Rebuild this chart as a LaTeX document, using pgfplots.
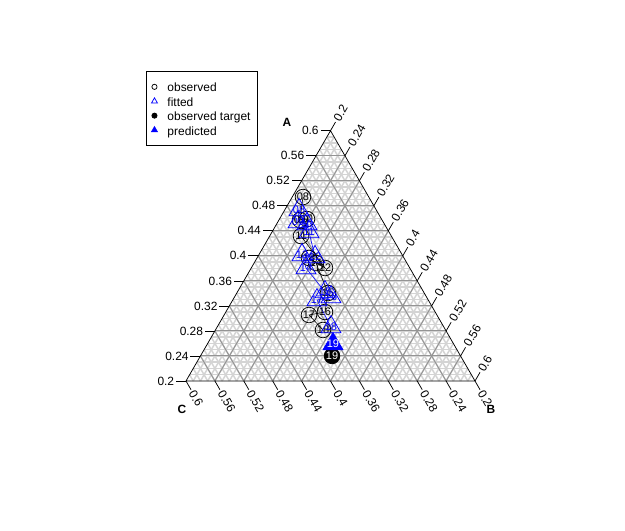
\documentclass[border=0pt]{standalone}
\usepackage{pgfplots}
\pgfplotsset{compat=1.18}
\usepackage{pgfplotstable}
\usepackage{fontspec}
\setmainfont{Liberation Sans}

% compositions: A, B (C = 1 - A - B)
\pgfplotstableread{
A B L
0.4940 0.2149 08
0.4573 0.2291 09
0.4589 0.2380 10
0.4317 0.2433 11
0.3806 0.3021 12
0.3966 0.2719 13
0.3886 0.2856 14
0.3406 0.3262 15
0.3103 0.3372 16
0.3055 0.3175 17
0.2815 0.3489 18
}\obs
\pgfplotstableread{
A B L
0.2400 0.3821 19
}\target
\pgfplotstableread{
A B L
0.4733 0.2198 08
0.4541 0.2280 09
0.4509 0.2420 10
0.4381 0.2512 11
0.3982 0.2795 12
0.4014 0.2599 13
0.3806 0.2758 14
0.3422 0.3213 15
0.3342 0.3336 16
0.3294 0.3166 17
0.2863 0.3575 18
}\fit
\pgfplotstableread{
A B L
0.2591 0.3739 19
}\pred

\newcommand\atick[2]{\draw[black,line width=0.75bp] (axis cs:{0.2+#1/200},{0.8660254*#1/100}) -- ++(-10bp,0bp) node[anchor=east,inner sep=1.5bp] {#2};}
\newcommand\btick[2]{\draw[black,line width=0.75bp] (axis cs:{0.4+#1/200},{0.8660254*(0.8-#1/100)}) -- ++(60:10bp) node[rotate=60,anchor=west,inner sep=1.5bp] {#2};}
\newcommand\ctick[2]{\draw[black,line width=0.75bp] (axis cs:{0.9-#1/100},0.1732051) -- ++(-60:10bp) node[rotate=-60,anchor=west,inner sep=1.5bp] {#2};}

\begin{document}
\begin{tikzpicture}
\begin{axis}[
  x=722.5bp, y=722.5bp,
  xmin=0.04256, xmax=0.90761, ymin=-0.03303, ymax=0.70054,
  hide axis, clip=false,
  font=\fontsize{12}{14}\selectfont,
  legend cell align=left,
  legend style={at={(axis cs:0.2446,0.6023)}, anchor=north west, draw=black,
    line width=0.75bp, font=\fontsize{12}{13}\selectfont,
    inner xsep=4.8bp, inner ysep=8.5bp, row sep=0.4bp,
    nodes={inner sep=2bp, text height=10bp, text depth=0bp}},
]
\path (axis cs:0.04256,-0.03303) rectangle (axis cs:0.90761,0.70054);
% fine grid
\pgfplotsinvokeforeach{21,...,59}{
  \draw[black!17,line width=1.5bp] (axis cs:{0.2+#1/200},{0.8660254*#1/100}) -- (axis cs:{0.8-#1/200},{0.8660254*#1/100});
  \draw[black!17,line width=1.5bp] (axis cs:{#1/100+0.1},0.1732051) -- (axis cs:{0.4+#1/200},{0.8660254*(0.8-#1/100)});
  \draw[black!17,line width=1.5bp] (axis cs:{0.9-#1/100},0.1732051) -- (axis cs:{0.6-#1/200},{0.8660254*(0.8-#1/100)});
}
% main grid
\pgfplotsinvokeforeach{24,28,...,56}{
  \draw[black!42,line width=1bp] (axis cs:{0.2+#1/200},{0.8660254*#1/100}) -- (axis cs:{0.8-#1/200},{0.8660254*#1/100});
  \draw[black!42,line width=1bp] (axis cs:{#1/100+0.1},0.1732051) -- (axis cs:{0.4+#1/200},{0.8660254*(0.8-#1/100)});
  \draw[black!42,line width=1bp] (axis cs:{0.9-#1/100},0.1732051) -- (axis cs:{0.6-#1/200},{0.8660254*(0.8-#1/100)});
}
\draw[black,line width=0.75bp] (axis cs:0.3,0.1732051) -- (axis cs:0.7,0.1732051) -- (axis cs:0.5,0.5196152) -- cycle;
% ticks
\atick{20}{0.2}\atick{24}{0.24}\atick{28}{0.28}\atick{32}{0.32}\atick{36}{0.36}\atick{40}{0.4}
\atick{44}{0.44}\atick{48}{0.48}\atick{52}{0.52}\atick{56}{0.56}\atick{60}{0.6}
\btick{20}{0.2}\btick{24}{0.24}\btick{28}{0.28}\btick{32}{0.32}\btick{36}{0.36}\btick{40}{0.4}
\btick{44}{0.44}\btick{48}{0.48}\btick{52}{0.52}\btick{56}{0.56}\btick{60}{0.6}
\ctick{20}{0.2}\ctick{24}{0.24}\ctick{28}{0.28}\ctick{32}{0.32}\ctick{36}{0.36}\ctick{40}{0.4}
\ctick{44}{0.44}\ctick{48}{0.48}\ctick{52}{0.52}\ctick{56}{0.56}\ctick{60}{0.6}
\node[font=\bfseries\fontsize{12}{14}\selectfont] at (axis cs:0.4398,0.5317) {A};
\node[font=\bfseries\fontsize{12}{14}\selectfont] at (axis cs:0.7222,0.1345) {B};
\node[font=\bfseries\fontsize{12}{14}\selectfont] at (axis cs:0.2945,0.1345) {C};
% connecting lines
\addplot[black,line width=0.6bp,forget plot] table[x expr=\thisrow{B}+0.5*\thisrow{A}, y expr=0.8660254*\thisrow{A}] {\obs};
\addplot[blue,line width=0.6bp,forget plot] table[x expr=\thisrow{B}+0.5*\thisrow{A}, y expr=0.8660254*\thisrow{A}] {\fit};
% observed
\addplot[only marks, mark=o, mark size=7.8bp, mark options={draw=black,line width=0.75bp},
  point meta=explicit symbolic, nodes near coords, nodes near coords align={center},
  every node near coord/.append style={anchor=center,font=\fontsize{11}{11}\selectfont,black,inner sep=0pt},
  legend image code/.code={\path[draw=none,fill=none] (-2.6bp,0) -- (11bp,0); \draw[black,line width=0.75bp,fill=none] (0,0) circle (2.6bp);}]
  table[x expr=\thisrow{B}+0.5*\thisrow{A}, y expr=0.8660254*\thisrow{A}, meta=L] {\obs};
\addlegendentry{observed}
% fitted
\addplot[only marks, mark=triangle, mark size=11.5bp, mark options={draw=blue,line width=0.75bp},
  point meta=explicit symbolic, nodes near coords, nodes near coords align={center},
  every node near coord/.append style={anchor=center,font=\fontsize{11}{11}\selectfont,blue,inner sep=0pt},
  legend image code/.code={\path[draw=none,fill=none] (-2.6bp,0) -- (11bp,0); \draw[blue,line width=0.75bp,fill=none] (0,0) ++(90:3.4bp) -- ++(-120:5.9bp) -- ++(0:5.9bp) -- cycle;}]
  table[x expr=\thisrow{B}+0.5*\thisrow{A}, y expr=0.8660254*\thisrow{A}, meta=L] {\fit};
\addlegendentry{fitted}
% observed target
\addplot[only marks, mark=*, mark size=7.8bp, mark options={draw=black,fill=black,line width=0.75bp},
  point meta=explicit symbolic, nodes near coords, nodes near coords align={center},
  every node near coord/.append style={anchor=center,font=\fontsize{11}{11}\selectfont,white,inner sep=0pt},
  legend image code/.code={\path[draw=none,fill=none] (-2.6bp,0) -- (11bp,0); \fill[black] (0,0) circle (2.6bp);}]
  table[x expr=\thisrow{B}+0.5*\thisrow{A}, y expr=0.8660254*\thisrow{A}, meta=L] {\target};
\addlegendentry{observed target}
% predicted
\addplot[only marks, mark=triangle*, mark size=11.5bp, mark options={draw=blue,fill=blue,line width=0.75bp},
  point meta=explicit symbolic, nodes near coords, nodes near coords align={center},
  every node near coord/.append style={anchor=center,font=\fontsize{11}{11}\selectfont,white,inner sep=0pt},
  legend image code/.code={\path[draw=none,fill=none] (-2.6bp,0) -- (11bp,0); \fill[blue] (0,0) ++(90:3.4bp) -- ++(-120:5.9bp) -- ++(0:5.9bp) -- cycle;}]
  table[x expr=\thisrow{B}+0.5*\thisrow{A}, y expr=0.8660254*\thisrow{A}, meta=L] {\pred};
\addlegendentry{predicted}
\end{axis}
\end{tikzpicture}
\end{document}
